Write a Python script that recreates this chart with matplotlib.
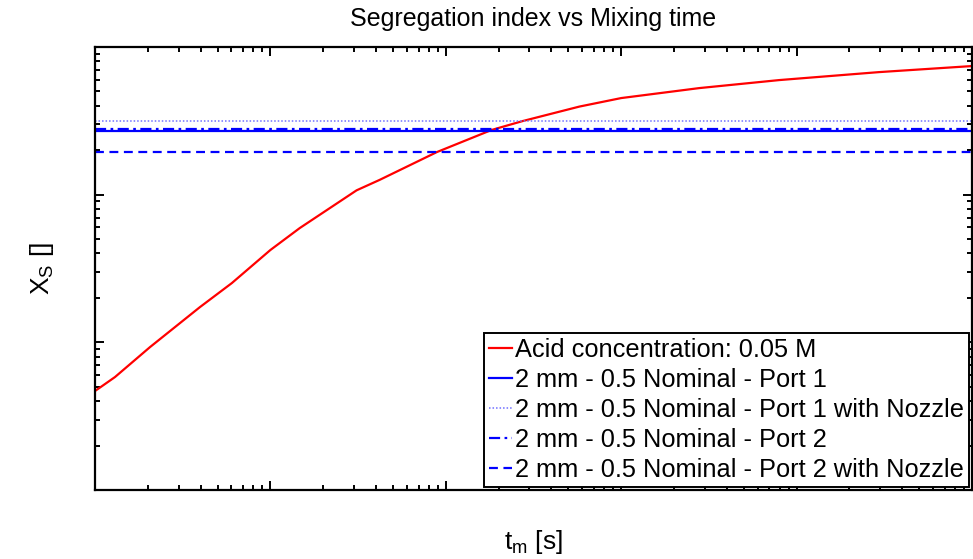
import matplotlib
matplotlib.use("Agg")
import matplotlib.pyplot as plt
from matplotlib.ticker import LogLocator, NullFormatter

plt.rcParams['font.family'] = ['Liberation Sans', 'DejaVu Sans']
plt.rcParams['mathtext.default'] = 'regular'

# --- data (log-log axes, no tick labels shown) ---
t_mix = [1.0e-4, 1.30e-4, 2.06e-4, 3.96e-4, 6.03e-4, 1.0e-3, 1.47e-3, 3.10e-3,
         4.20e-3, 8.87e-3, 1.82e-2, 2.74e-2, 5.78e-2, 0.100, 0.279, 0.796,
         2.95, 10.0]
xs_acid = [4.68e-3, 5.82e-3, 9.29e-3, 1.73e-2, 2.52e-2, 4.22e-2, 5.94e-2, 0.107,
           0.126, 0.194, 0.274, 0.315, 0.395, 0.451, 0.527, 0.597,
           0.676, 0.743]

xs_port1 = 0.270
xs_port1_nozzle = 0.315
xs_port2 = 0.277
xs_port2_nozzle = 0.194

labels = ['Acid concentration: 0.05 M',
          '2 mm - 0.5 Nominal - Port 1',
          '2 mm - 0.5 Nominal - Port 1 with Nozzle',
          '2 mm - 0.5 Nominal - Port 2',
          '2 mm - 0.5 Nominal - Port 2 with Nozzle']

x_lim = (1e-4, 1e1)
y_lim = (1e-3, 1e0)

fig = plt.figure(figsize=(9.73, 5.59), dpi=100)
ax = fig.add_axes([95 / 973, 1 - 490 / 559, 877 / 973, 443 / 559])

ax.plot(t_mix, xs_acid, color='red', lw=1.6, label=labels[0])
ax.axhline(xs_port1, color='blue', lw=1.6, ls='-', label=labels[1])
ax.axhline(xs_port1_nozzle, color='#7070ff', lw=1.1, ls=(0, (1, 1.3)), label=labels[2])
ax.axhline(xs_port2, color='blue', lw=1.6, ls=(0, (5, 2, 1.2, 2)), label=labels[3])
ax.axhline(xs_port2_nozzle, color='blue', lw=1.6, ls=(0, (4, 2.5)), label=labels[4])

ax.set_xscale('log')
ax.set_yscale('log')
ax.set_xlim(*x_lim)
ax.set_ylim(*y_lim)

ax.xaxis.set_major_locator(LogLocator(base=10, numticks=20))
ax.xaxis.set_minor_locator(LogLocator(base=10, subs=range(2, 10), numticks=50))
ax.yaxis.set_major_locator(LogLocator(base=10, numticks=20))
ax.yaxis.set_minor_locator(LogLocator(base=10, subs=range(2, 10), numticks=50))
for axis in (ax.xaxis, ax.yaxis):
    axis.set_major_formatter(NullFormatter())
    axis.set_minor_formatter(NullFormatter())

ax.tick_params(which='both', direction='in', top=True, right=True, width=1.4, color='black')
ax.tick_params(which='major', length=6.5)
ax.tick_params(which='minor', length=3.3)
for s in ax.spines.values():
    s.set_linewidth(1.6)
    s.set_color('black')

ax.set_title('Segregation index vs Mixing time', fontsize=18, pad=15)
ax.set_xlabel('$t_m$ [s]', fontsize=19)
ax.set_ylabel('$X_S$ []', fontsize=19)
ax.xaxis.set_label_coords(0.5, -0.085)
ax.yaxis.set_label_coords(-0.045, 0.5)

leg = ax.legend(loc='lower right', bbox_to_anchor=(1.0, 0.0), fontsize=18.3,
                handlelength=0.9, handletextpad=0.15, borderpad=0.2,
                labelspacing=0.24, borderaxespad=0.1, fancybox=False,
                framealpha=1.0, edgecolor='black')
leg.get_frame().set_linewidth(1.4)

fig.savefig('out.png', dpi=100)
